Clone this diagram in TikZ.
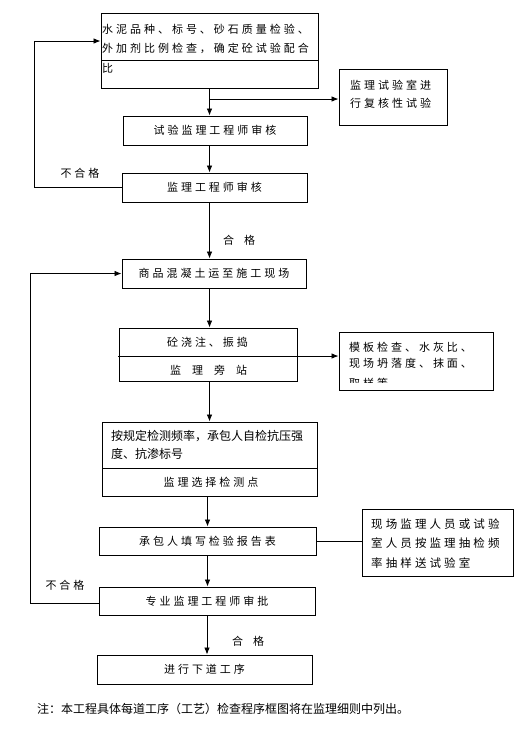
\documentclass[tikz,border=0pt]{standalone}
\usepackage{fontspec}
\usetikzlibrary{arrows.meta}
\newfontfamily\cjk{Noto Sans CJK SC}
\newfontfamily\cjksp[LetterSpace=27]{Noto Sans CJK SC}
\newcommand{\spfont}{\cjksp\fontsize{11}{12}\selectfont}
\newcommand{\rgfont}{\cjk\fontsize{12}{14}\selectfont}
\begin{document}
\begin{tikzpicture}[x=1pt,y=-1pt,
  box/.style={draw, line width=0.9pt, inner sep=0pt, font=\spfont},
  txt/.style={inner sep=0pt, anchor=west, font=\spfont},
  arr/.style={line width=0.8pt, -{Latex[length=7pt,width=5.5pt]}},
  ln/.style={line width=0.8pt}]
\useasboundingbox (0,0) rectangle (531,731);
\fill[white] (0,0) rectangle (531,731);

% boxes
\node[box, minimum width=217pt, minimum height=75pt] (b1) at (209.5,50.5) {};
\node[box, minimum width=108pt, minimum height=56pt] (r1) at (393,97) {};
\node[box, minimum width=184pt, minimum height=29pt] (b2) at (215,130.5) {试验监理工程师审核};
\node[box, minimum width=185pt, minimum height=29pt] (b3) at (214.5,187.5) {监理工程师审核};
\node[box, minimum width=184pt, minimum height=29pt] (b4) at (214,273.5) {商品混凝土运至施工现场};
\node[box, minimum width=178pt, minimum height=53pt] (b5) at (208,354.5) {};
\node[box, minimum width=154pt, minimum height=58pt] (r2) at (416,361) {};
\node[box, minimum width=215pt, minimum height=74pt] (b6) at (209.5,459) {};
\node[box, minimum width=217pt, minimum height=28pt] (b7) at (207.5,541) {承包人填写检验报告表};
\node[box, minimum width=151pt, minimum height=67pt] (r3) at (437.5,542.5) {};
\node[box, minimum width=216pt, minimum height=28pt] (b8) at (207,601) {专业监理工程师审批};
\node[box, minimum width=215pt, minimum height=29pt] (b9) at (204.5,669.5) {进行下道工序};

% texts in boxes
\node[txt] (t1a) at (102,29) {水泥品种、标号、砂石质量检验、};
\node[txt] (t1b) at (102,48) {外加剂比例检查，确定砼试验配合};
\node[txt] (t1c) at (102,68) {比};
\draw[ln] (101,60) -- (318,60);

\node[txt] (t2a) at (350,85) {监理试验室进};
\node[txt] (t2b) at (350,103) {行复核性试验};

\node[inner sep=0pt, font=\spfont] (t5a) at (207.5,342) {砼浇注、振捣};
\node[inner sep=0pt, font=\spfont] (t5b) at (208.5,370) {监\hspace{11pt}理\hspace{11pt}旁\hspace{11pt}站};

\node[txt] (t6a) at (349,347) {模板检查、水灰比、};
\node[txt] (t6b) at (349,363) {现场坍落度、抹面、};
\begin{scope}
\clip (340,333) rectangle (492,382);
\node[txt] (t6c) at (349,383) {取样等};
\end{scope}

\node[txt, font=\rgfont] (t7a) at (111,436) {按规定检测频率，承包人自检抗压强};
\node[txt, font=\rgfont] (t7b) at (111,454) {度、抗渗标号};
\draw[ln] (102,468) -- (317,468);
\node[inner sep=0pt, font=\spfont] (t7c) at (211,482) {监理选择检测点};

\node[txt, font=\cjksp\fontsize{11.5}{12}\selectfont] (t8a) at (371,524) {现场监理人员或试验};
\node[txt, font=\cjksp\fontsize{11.5}{12}\selectfont] (t8b) at (371,543) {室人员按监理抽检频};
\node[txt, font=\cjksp\fontsize{11.5}{12}\selectfont] (t8c) at (371,563) {率抽样送试验室};

% labels
\node[inner sep=0pt, font=\spfont] (nq1) at (80,173) {不合格};
\node[inner sep=0pt, font=\spfont] (nq2) at (65,585) {不合格};
\node[inner sep=0pt, font=\cjk\fontsize{11}{12}\selectfont] (q1) at (239,240) {合\hspace{10pt}格};
\node[inner sep=0pt, font=\cjk\fontsize{11}{12}\selectfont] (q2) at (248,641) {合\hspace{10pt}格};

% connectors
\draw[arr] (b1.south) -- (b2.north -| b1.south);
\coordinate (j1) at (209.5,99);
\draw[arr] (j1) -- (j1 -| r1.west);
\draw[arr] (b2.south -| b1.south) -- (b3.north -| b1.south);
\draw[arr] (b3.south -| b1.south) -- (b4.north -| b1.south);
\draw[arr] (b4.south -| b1.south) -- (b5.north -| b1.south);
\coordinate (d5) at (118,356);
\draw[arr] (d5) -- (d5 -| r2.west);
\draw[arr] (b5.south -| b1.south) -- (b6.north -| b1.south);
\draw[arr] (b6.south -| b7.south) -- (b7.north);
\draw[ln] (b7.east) -- (b7.east -| r3.west);
\draw[arr] (b7.south) -- (b8.north -| b7.south);
\draw[arr] (b8.south) -- (b9.north -| b8.south);

\draw[arr] (b3.west) -- ++(-87,0) |- ([yshift=9.5pt]b1.west);
\draw[arr] ([yshift=-2pt]b8.west) -- ++(-68,0) |- (b4.west);

% note
\node[txt, font=\rgfont] (note) at (37,709) {注：本工程具体每道工序（工艺）检查程序框图将在监理细则中列出。};
\end{tikzpicture}
\end{document}
